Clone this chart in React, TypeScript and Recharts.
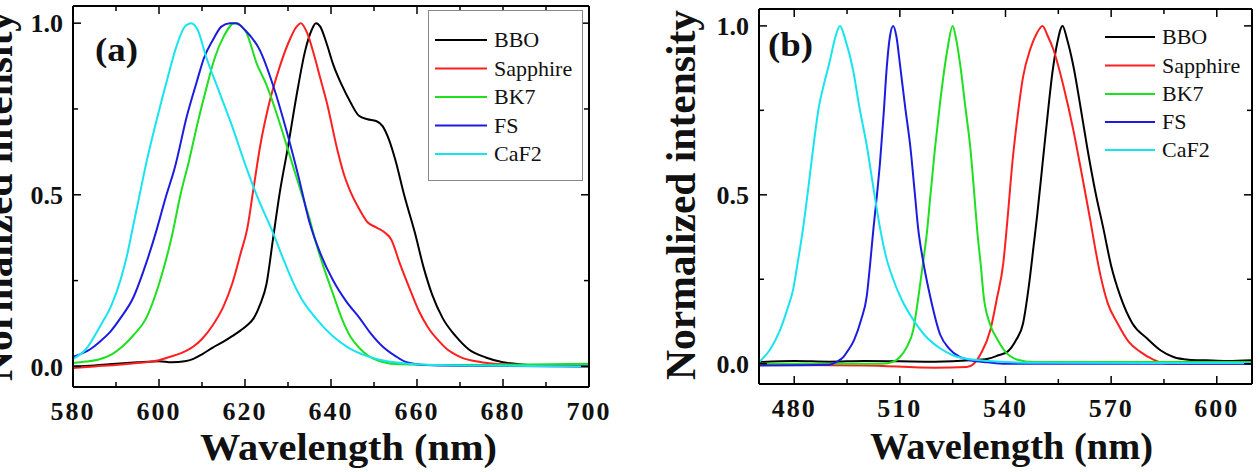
import React from "react";
import { LineChart, Line, XAxis, YAxis } from "recharts";

type Pt = [number, number];

// panel (a): wavelength (nm) vs normalized intensity
const bboA: Pt[] = [
  [580, 0.0], [585, 0.003], [590, 0.008], [595, 0.012], [600, 0.015], [603, 0.012], [606, 0.015],
  [608, 0.022], [610, 0.035], [612.5, 0.055], [615, 0.072], [617, 0.088], [619, 0.105], [620.5, 0.12],
  [622, 0.14], [623.5, 0.18], [625, 0.24], [626.5, 0.37], [628, 0.5], [630, 0.64], [632, 0.79],
  [634, 0.92], [635.5, 0.98], [636.5, 1.0], [637.5, 0.99], [639, 0.94], [640.5, 0.88], [642.5, 0.82],
  [644.5, 0.77], [646.5, 0.73], [648.5, 0.72], [650.5, 0.715], [652, 0.7], [653.5, 0.66], [655, 0.6],
  [657, 0.5], [659.5, 0.39], [661.5, 0.29], [663.5, 0.21], [666, 0.14], [669, 0.088], [672, 0.05],
  [676, 0.026], [680, 0.012], [685, 0.005], [690, 0.003], [700, 0.002],
];
const sapphireA: Pt[] = [
  [580, -0.005], [585, 0.0], [590, 0.004], [595, 0.01], [600, 0.018], [602, 0.026], [605, 0.038],
  [608, 0.058], [610, 0.08], [612.5, 0.12], [615, 0.175], [617, 0.24], [619, 0.33], [620.5, 0.4],
  [622, 0.52], [623.5, 0.64], [625.5, 0.76], [628, 0.87], [630, 0.94], [632, 0.99], [633, 1.0],
  [634.5, 0.97], [636, 0.91], [637.5, 0.84], [639, 0.77], [641.5, 0.63], [643, 0.56], [644.5, 0.51],
  [646.5, 0.46], [648.5, 0.42], [650.5, 0.405], [652.5, 0.39], [654, 0.37], [656, 0.3], [658.5, 0.22],
  [660.5, 0.16], [662.5, 0.115], [665, 0.075], [667, 0.05], [670, 0.028], [675, 0.012], [680, 0.006],
  [690, 0.002], [700, 0.0],
];
const bk7A: Pt[] = [
  [580, 0.01], [583, 0.014], [586, 0.02], [589, 0.035], [591.5, 0.058], [594, 0.09], [597, 0.14],
  [600, 0.24], [603, 0.38], [605, 0.5], [607, 0.6], [609, 0.71], [611, 0.81], [613, 0.9], [615, 0.96],
  [617.5, 1.0], [620, 0.98], [622.8, 0.88], [625, 0.82], [627, 0.75], [628.8, 0.68], [631, 0.59],
  [633, 0.51], [635, 0.43], [636.5, 0.36], [638, 0.3], [640.5, 0.21], [642.5, 0.14], [644.5, 0.087],
  [646.5, 0.055], [648.5, 0.032], [652, 0.013], [656, 0.006], [665, 0.004], [680, 0.005], [700, 0.008],
];
const fsA: Pt[] = [
  [580, 0.028], [584, 0.05], [586.5, 0.075], [588.6, 0.1], [591, 0.14], [594, 0.2], [597, 0.3],
  [599.5, 0.4], [601.5, 0.49], [603.7, 0.58], [606.5, 0.73], [608.8, 0.83], [610.5, 0.9], [612.5, 0.95],
  [614.5, 0.99], [616.5, 1.0], [618, 1.0], [620, 0.98], [623.5, 0.92], [626.5, 0.82], [629.8, 0.68],
  [632.5, 0.55], [635, 0.42], [637.5, 0.33], [640.5, 0.25], [643.5, 0.19], [646.7, 0.14], [649, 0.1],
  [652, 0.058], [655, 0.03], [657.6, 0.012], [662, 0.004], [670, 0.002], [700, 0.0],
];
const caf2A: Pt[] = [
  [580, 0.022], [583, 0.05], [586.3, 0.117], [589, 0.18], [591, 0.25], [592.5, 0.32], [594, 0.41],
  [595.5, 0.5], [597, 0.59], [599.5, 0.72], [602, 0.84], [604, 0.93], [606, 0.99], [607.5, 1.0],
  [609, 0.98], [611, 0.9], [614, 0.8], [617, 0.7], [620, 0.59], [623, 0.49], [626.5, 0.39], [629, 0.31],
  [631, 0.25], [633, 0.2], [636.5, 0.14], [640.5, 0.087], [644, 0.055], [648.4, 0.03], [653, 0.015],
  [658, 0.008], [665, 0.004], [680, 0.002], [700, 0.0],
];

// panel (b)
const bboB: Pt[] = [
  [470, 0.005], [480, 0.008], [490, 0.006], [500, 0.008], [510, 0.007], [520, 0.006], [530, 0.01],
  [535, 0.015], [538, 0.025], [540.5, 0.035], [543, 0.07], [545, 0.12], [546.5, 0.22], [548, 0.35],
  [549, 0.44], [550.5, 0.59], [551.9, 0.73], [553.3, 0.86], [554.7, 0.95], [556.2, 1.0], [557.5, 0.96],
  [559.3, 0.88], [561.3, 0.76], [563.2, 0.64], [565.5, 0.51], [567.8, 0.4], [570, 0.29], [572.6, 0.2],
  [576, 0.12], [580.3, 0.074], [584, 0.04], [587.7, 0.02], [592, 0.012], [597, 0.01], [603, 0.008],
  [610, 0.01],
];
const sapphireB: Pt[] = [
  [470, -0.003], [500, -0.005], [520, -0.012], [529, -0.01], [531, 0.0], [533, 0.03], [535.7, 0.1],
  [537.5, 0.19], [539.4, 0.3], [540.5, 0.42], [542, 0.6], [543.4, 0.73], [545, 0.85], [547, 0.93],
  [549, 0.98], [550.5, 1.0], [552, 0.97], [553.6, 0.93], [556.5, 0.82], [559.3, 0.69], [561.5, 0.57],
  [564, 0.43], [565.5, 0.34], [567, 0.26], [569, 0.18], [571.8, 0.12], [575, 0.065], [578.3, 0.035],
  [582, 0.012], [586, 0.0], [610, 0.0],
];
const bk7B: Pt[] = [
  [470, 0.0], [505, 0.0], [508, 0.005], [510, 0.02], [512, 0.05], [513.8, 0.1], [515.3, 0.2],
  [516.6, 0.3], [517.8, 0.4], [518.6, 0.49], [520, 0.64], [521.5, 0.78], [523.5, 0.93], [525, 1.0],
  [526, 0.96], [527.2, 0.88], [528.6, 0.76], [530, 0.64], [531, 0.52], [532, 0.39], [533, 0.29],
  [533.8, 0.2], [535.5, 0.12], [537.6, 0.074], [540, 0.035], [543.4, 0.012], [548, 0.005], [610, 0.005],
];
const fsB: Pt[] = [
  [470, -0.005], [490, -0.003], [492, 0.005], [494, 0.02], [495, 0.035], [497, 0.07], [499, 0.13],
  [500.6, 0.2], [501.6, 0.3], [502.5, 0.4], [503.5, 0.5], [504.4, 0.6], [505.4, 0.74], [506.3, 0.88],
  [507.2, 0.97], [508.1, 1.0], [509, 0.97], [510.1, 0.88], [511.5, 0.76], [513, 0.64], [514.2, 0.51],
  [515.2, 0.4], [516.5, 0.31], [518.6, 0.2], [521.5, 0.085], [524, 0.045], [527, 0.02], [530, 0.01],
  [535, 0.004], [540, 0.0], [610, 0.0],
];
const caf2B: Pt[] = [
  [470, 0.005], [471, 0.015], [473, 0.04], [476, 0.1], [478, 0.16], [479.7, 0.22], [481, 0.3],
  [482.5, 0.4], [484, 0.52], [485.4, 0.64], [487, 0.76], [488.5, 0.83], [490.2, 0.9], [491.5, 0.96],
  [493, 1.0], [494.5, 0.96], [496.7, 0.87], [498.5, 0.76], [500.7, 0.64], [502.5, 0.52], [504.4, 0.4],
  [506, 0.32], [508.1, 0.25], [510.5, 0.19], [513.8, 0.13], [517, 0.085], [521.5, 0.045], [525, 0.025],
  [530, 0.013], [535, 0.008], [540, 0.005], [550, 0.003], [610, 0.002],
];

const seriesNames = ["BBO", "Sapphire", "BK7", "FS", "CaF2"];
const seriesColors = ["#000000", "#ff1f1f", "#1ee01e", "#1c1ce0", "#18e4f0"];

const ticksA = [580, 600, 620, 640, 660, 680, 700];
const minorA = [590, 610, 630, 650, 670, 690];
const ticksB = [480, 510, 540, 570, 600];
const minorB = [495, 525, 555, 585];
const ticksY = [0, 0.5, 1];
const minorY = [0.25, 0.75];

const SERIF = '"Liberation Serif", "Times New Roman", serif';
const Y_DOMAIN: [number, number] = [-0.06, 1.05];
const MAJOR = 8;
const MINOR = 5;

function toRows(pts: Pt[]) {
  return pts.map(([w, v]) => ({ w, v }));
}

type Side = "bottom" | "top" | "left" | "right";

// ticks point into the frame; tickSize/tickMargin are 0 so (x, y) is the spot on the frame line
function makeTick(side: Side, major: number[], withLabel: boolean) {
  return (p: any) => {
    const value = p.payload?.value as number;
    const isMajor = major.some((m) => Math.abs(m - value) < 1e-6);
    const len = isMajor ? MAJOR : MINOR;
    const { x, y } = p;
    let line = { x1: x, y1: y, x2: x, y2: y };
    if (side === "bottom") line.y2 = y - len;
    if (side === "top") line.y2 = y + len;
    if (side === "left") line.x2 = x + len;
    if (side === "right") line.x2 = x - len;
    return (
      <g>
        <line {...line} stroke="#000" strokeWidth={1.5} />
        {withLabel && isMajor && side === "bottom" && (
          <text x={x} y={y + 33} textAnchor="middle" fontSize={26} fontWeight="bold" fontFamily={SERIF} fill="#111" letterSpacing={2}>
            {value}
          </text>
        )}
        {withLabel && isMajor && side === "left" && (
          <text x={x - 10} y={y} dy="0.35em" textAnchor="end" fontSize={26} fontWeight="bold" fontFamily={SERIF} fill="#111">
            {value.toFixed(1)}
          </text>
        )}
      </g>
    );
  };
}

interface PanelProps {
  left: number;
  width: number;
  margin: { top: number; right: number; bottom: number; left: number };
  xDomain: [number, number];
  xTicks: number[];
  xMinor: number[];
  series: Pt[][];
}

const frame = { stroke: "#000", strokeWidth: 2 };

function Panel({ left, width, margin, xDomain, xTicks, xMinor, series }: PanelProps) {
  const allX = [...xTicks, ...xMinor].sort((a, b) => a - b);
  const allY = [...ticksY, ...minorY].sort((a, b) => a - b);
  const xCommon = {
    type: "number" as const,
    dataKey: "w",
    domain: xDomain,
    allowDataOverflow: true,
    height: 1,
    interval: 0 as const,
    ticks: allX,
    tickSize: 0,
    tickMargin: 0,
    tickLine: false,
    axisLine: frame,
  };
  const yCommon = {
    type: "number" as const,
    domain: Y_DOMAIN,
    allowDataOverflow: true,
    width: 1,
    interval: 0 as const,
    ticks: allY,
    tickSize: 0,
    tickMargin: 0,
    tickLine: false,
    axisLine: frame,
  };
  return (
    <div style={{ position: "absolute", left, top: 0 }}>
      <LineChart width={width} height={472} margin={margin}>
        <XAxis {...xCommon} xAxisId="b" tick={makeTick("bottom", xTicks, true)} />
        <XAxis {...xCommon} xAxisId="t" orientation="top" tick={makeTick("top", xTicks, false)} />
        <YAxis {...yCommon} yAxisId="l" tick={makeTick("left", ticksY, true)} />
        <YAxis {...yCommon} yAxisId="r" orientation="right" tick={makeTick("right", ticksY, false)} />
        {series.map((pts, i) => (
          <Line
            key={seriesNames[i]}
            xAxisId="b"
            yAxisId="l"
            data={toRows(pts)}
            dataKey="v"
            type="monotone"
            stroke={seriesColors[i]}
            strokeWidth={2}
            dot={false}
            isAnimationActive={false}
          />
        ))}
      </LineChart>
    </div>
  );
}

function LegendBlock({ x, rows, lineLen }: { x: number; rows: number[]; lineLen: number }) {
  return (
    <g>
      {seriesNames.map((name, i) => (
        <g key={name}>
          <line x1={x} x2={x + lineLen} y1={rows[i]} y2={rows[i]} stroke={seriesColors[i]} strokeWidth={2} />
          <text x={x + lineLen + 7} y={rows[i]} dy="0.34em" fontSize={22} fontFamily={SERIF} fill="#111">
            {name}
          </text>
        </g>
      ))}
    </g>
  );
}

export default function App() {
  return (
    <div style={{ position: "absolute", left: 0, top: 0, width: 1260, height: 472, background: "#fff", overflow: "hidden" }}>
      <Panel
        left={0}
        width={630}
        margin={{ top: 5, right: 40, bottom: 84, left: 72 }}
        xDomain={[580, 700]}
        xTicks={ticksA}
        xMinor={minorA}
        series={[bboA, sapphireA, bk7A, fsA, caf2A]}
      />
      <Panel
        left={640}
        width={620}
        margin={{ top: 8, right: 7, bottom: 87, left: 118 }}
        xDomain={[470, 610]}
        xTicks={ticksB}
        xMinor={minorB}
        series={[bboB, sapphireB, bk7B, fsB, caf2B]}
      />
      <svg width={1260} height={472} style={{ position: "absolute", left: 0, top: 0, pointerEvents: "none" }}>
        <g fontFamily={SERIF} fontWeight="bold" fill="#111">
          <text transform="translate(12,196) rotate(-90)" textAnchor="middle" fontSize={42} textLength={370} lengthAdjust="spacingAndGlyphs">
            Normalized intensity
          </text>
          <text transform="translate(695,195) rotate(-90)" textAnchor="middle" fontSize={42} textLength={370} lengthAdjust="spacingAndGlyphs">
            Normalized intensity
          </text>
          <text x={348.5} y={460} textAnchor="middle" fontSize={37} textLength={297} lengthAdjust="spacingAndGlyphs">
            Wavelength (nm)
          </text>
          <text x={1011.5} y={459} textAnchor="middle" fontSize={37} textLength={283} lengthAdjust="spacingAndGlyphs">
            Wavelength (nm)
          </text>
          <text x={95} y={61} fontSize={34} textLength={43} lengthAdjust="spacingAndGlyphs">(a)</text>
          <text x={768} y={56} fontSize={34} textLength={45} lengthAdjust="spacingAndGlyphs">(b)</text>
        </g>
        <rect x={428.5} y={10.5} width={154} height={170} fill="#fff" stroke="#888" strokeWidth={1} />
        <LegendBlock x={435} rows={[40, 68.5, 97, 125.5, 154]} lineLen={52} />
        <LegendBlock x={1105} rows={[37, 65.5, 94, 122, 150]} lineLen={50} />
      </svg>
    </div>
  );
}
